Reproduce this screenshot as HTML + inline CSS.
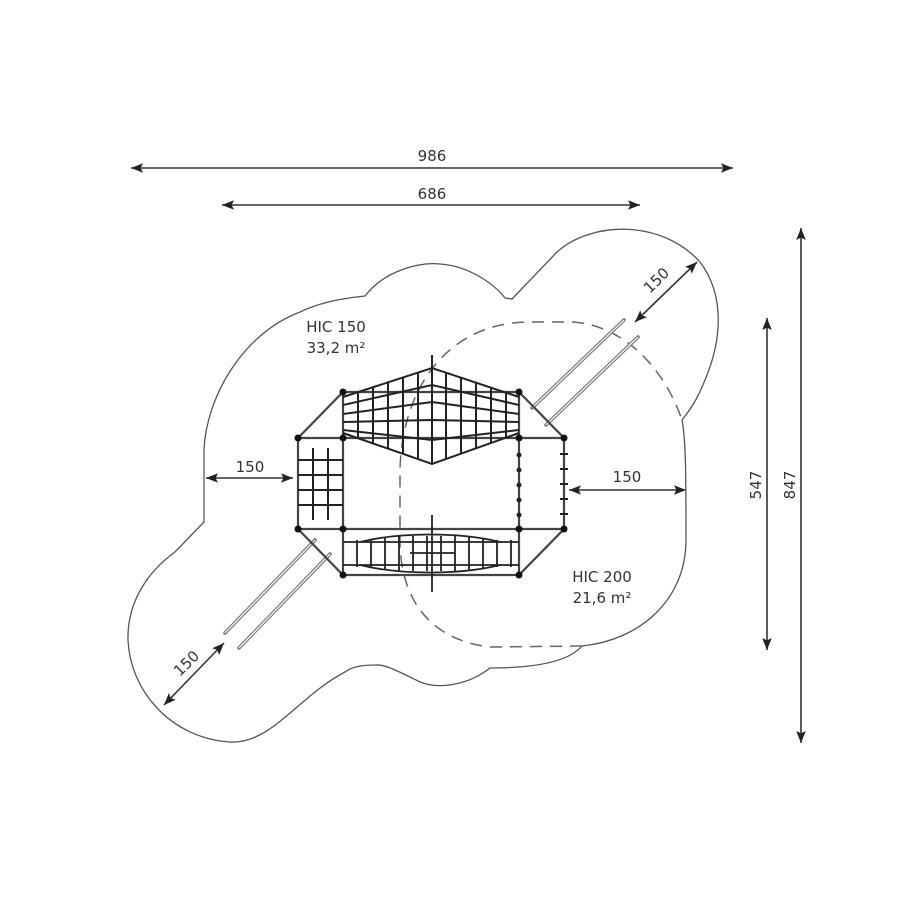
<!DOCTYPE html>
<html><head><meta charset="utf-8"><style>html,body{margin:0;padding:0;background:#fff}svg{display:block}text{font-family:"DejaVu Sans","Liberation Sans",sans-serif;fill:#333}</style></head>
<body>
<svg width="900" height="900" viewBox="0 0 900 900" xmlns="http://www.w3.org/2000/svg">
<defs>
<marker id="a" viewBox="0 0 10 10" refX="10" refY="5" markerWidth="12" markerHeight="12" markerUnits="userSpaceOnUse" orient="auto-start-reverse"><path d="M0,1 L10,5 L0,9 L2,5 Z" fill="#222"/></marker>
<clipPath id="net"><path d="M343,397 L432,368 L519,397 L519,433 L432,464 L343,433 Z"/></clipPath>
</defs>
<g stroke="#333" stroke-width="1.6" fill="none">
<line x1="131" y1="168" x2="733" y2="168" marker-start="url(#a)" marker-end="url(#a)"/>
<line x1="222" y1="205" x2="640" y2="205" marker-start="url(#a)" marker-end="url(#a)"/>
<line x1="801" y1="228" x2="801" y2="743" marker-start="url(#a)" marker-end="url(#a)"/>
<line x1="767" y1="318" x2="767" y2="650" marker-start="url(#a)" marker-end="url(#a)"/>
<line x1="206" y1="478" x2="293" y2="478" marker-start="url(#a)" marker-end="url(#a)"/>
<line x1="569" y1="490" x2="686" y2="490" marker-start="url(#a)" marker-end="url(#a)"/>
<line x1="635" y1="322" x2="697" y2="262" marker-start="url(#a)" marker-end="url(#a)"/>
<line x1="164" y1="705" x2="224" y2="643" marker-start="url(#a)" marker-end="url(#a)"/>
</g>
<text x="432" y="161" font-size="15" text-anchor="middle">986</text>
<text x="432" y="199" font-size="15" text-anchor="middle">686</text>
<text x="250" y="472" font-size="15" text-anchor="middle">150</text>
<text x="627" y="482" font-size="15" text-anchor="middle">150</text>
<text font-size="15" text-anchor="middle" transform="translate(795,485) rotate(-90)">847</text>
<text font-size="15" text-anchor="middle" transform="translate(761,485) rotate(-90)">547</text>
<text font-size="15" text-anchor="middle" transform="translate(660,284) rotate(-44)">150</text>
<text font-size="15" text-anchor="middle" transform="translate(190,667) rotate(-44)">150</text>
<text x="336" y="332" font-size="15" text-anchor="middle">HIC 150</text>
<text x="336" y="353" font-size="15" text-anchor="middle">33,2 m²</text>
<text x="602" y="582" font-size="15" text-anchor="middle">HIC 200</text>
<text x="602" y="603" font-size="15" text-anchor="middle">21,6 m²</text>
<path fill="none" stroke="#555" stroke-width="1.3" d="M204,522 L204,450 C206,400 240,335 300,312 C320,302 345,298 365,296 C385,270 420,262 440,264 C470,266 495,285 505,298 L512,299 L557,252 C590,222 660,218 700,262 C725,295 722,340 705,380 C697,400 690,410 682,420 C686,440 686,480 686,540 C686,600 640,640 582,646 C570,660 540,668 490,668 C470,684 440,690 420,682 C400,672 385,664 375,665 C360,665 350,668 345,672 C300,695 270,745 230,742 C170,738 130,690 128,640 C127,600 150,570 175,552 Z"/>
<path fill="none" stroke="#666" stroke-width="1.5" stroke-dasharray="12,8" d="M582,646 L490,647 C430,640 402,600 400,545 L400,470 C402,385 450,322 530,322 L572,322 C625,325 665,370 682,420"/>
<g stroke="#777" stroke-width="3.5" stroke-linecap="round"><line x1="532" y1="408" x2="624" y2="320"/><line x1="546" y1="425" x2="638" y2="337"/><line x1="315" y1="540" x2="225" y2="633"/><line x1="330" y1="554" x2="239" y2="648"/></g>
<g stroke="#fff" stroke-width="1.2"><line x1="532" y1="408" x2="624" y2="320"/><line x1="546" y1="425" x2="638" y2="337"/><line x1="315" y1="540" x2="225" y2="633"/><line x1="330" y1="554" x2="239" y2="648"/></g>
<g stroke="#444" stroke-width="2.2" fill="none">
<path d="M298,438 L343,392 L519,392 L564,438 L564,529 L519,575 L343,575 L298,529 Z"/>
<line x1="298" y1="438" x2="564" y2="438"/><line x1="298" y1="529" x2="564" y2="529"/>
<line x1="343" y1="392" x2="343" y2="575"/><line x1="519" y1="392" x2="519" y2="575"/>
</g>
<g stroke="#222" stroke-width="2" fill="none">
<path d="M343,397 L432,368 L519,397 M343,433 L432,464 L519,433"/>
<g clip-path="url(#net)">
<path d="M358,360 V470 M373,360 V470 M388,360 V470 M403,360 V470 M418,360 V470 M446,360 V470 M461,360 V470 M476,360 V470 M491,360 V470 M506,360 V470"/>
<path d="M343,405 L432,385 L519,405 M343,414 L432,402 L519,414 M343,422 L432,420 L519,422 M343,430 L432,440 L519,430"/>
</g>
<line x1="432" y1="355" x2="432" y2="464"/>
</g>
<g stroke="#222" stroke-width="2" fill="none">
<path d="M313,448 V520 M328,448 V520 M298,460 H343 M298,475 H343 M298,490 H343 M298,505 H343"/>
</g>
<g stroke="#222" stroke-width="1.8" fill="none">
<path d="M343,542 H519 M343,565 H519 M360,542 C400,532 460,532 500,542 M360,565 C400,575 460,575 500,565"/>
<path d="M357,540 V567 M371,540 V567 M385,538 V569 M399,536 V571 M413,536 V571 M427,536 V571 M441,536 V571 M455,536 V571 M469,536 V571 M483,538 V569 M497,540 V567 M511,540 V567"/>
<line x1="432" y1="515" x2="432" y2="592"/>
<line x1="410" y1="553" x2="455" y2="553"/>
</g>
<g fill="#222">
<circle cx="519" cy="455" r="2.5"/><circle cx="519" cy="470" r="2.5"/><circle cx="519" cy="485" r="2.5"/><circle cx="519" cy="500" r="2.5"/><circle cx="519" cy="515" r="2.5"/>
<rect x="560" y="453" width="8" height="2"/><rect x="560" y="468" width="8" height="2"/><rect x="560" y="483" width="8" height="2"/><rect x="560" y="498" width="8" height="2"/><rect x="560" y="513" width="8" height="2"/>
</g>
<g fill="#111">
<circle cx="343" cy="392" r="3.5"/><circle cx="519" cy="392" r="3.5"/><circle cx="298" cy="438" r="3.5"/><circle cx="343" cy="438" r="3.5"/><circle cx="519" cy="438" r="3.5"/><circle cx="564" cy="438" r="3.5"/><circle cx="298" cy="529" r="3.5"/><circle cx="343" cy="529" r="3.5"/><circle cx="519" cy="529" r="3.5"/><circle cx="564" cy="529" r="3.5"/><circle cx="343" cy="575" r="3.5"/><circle cx="519" cy="575" r="3.5"/>
</g>
</svg>
</body></html>
